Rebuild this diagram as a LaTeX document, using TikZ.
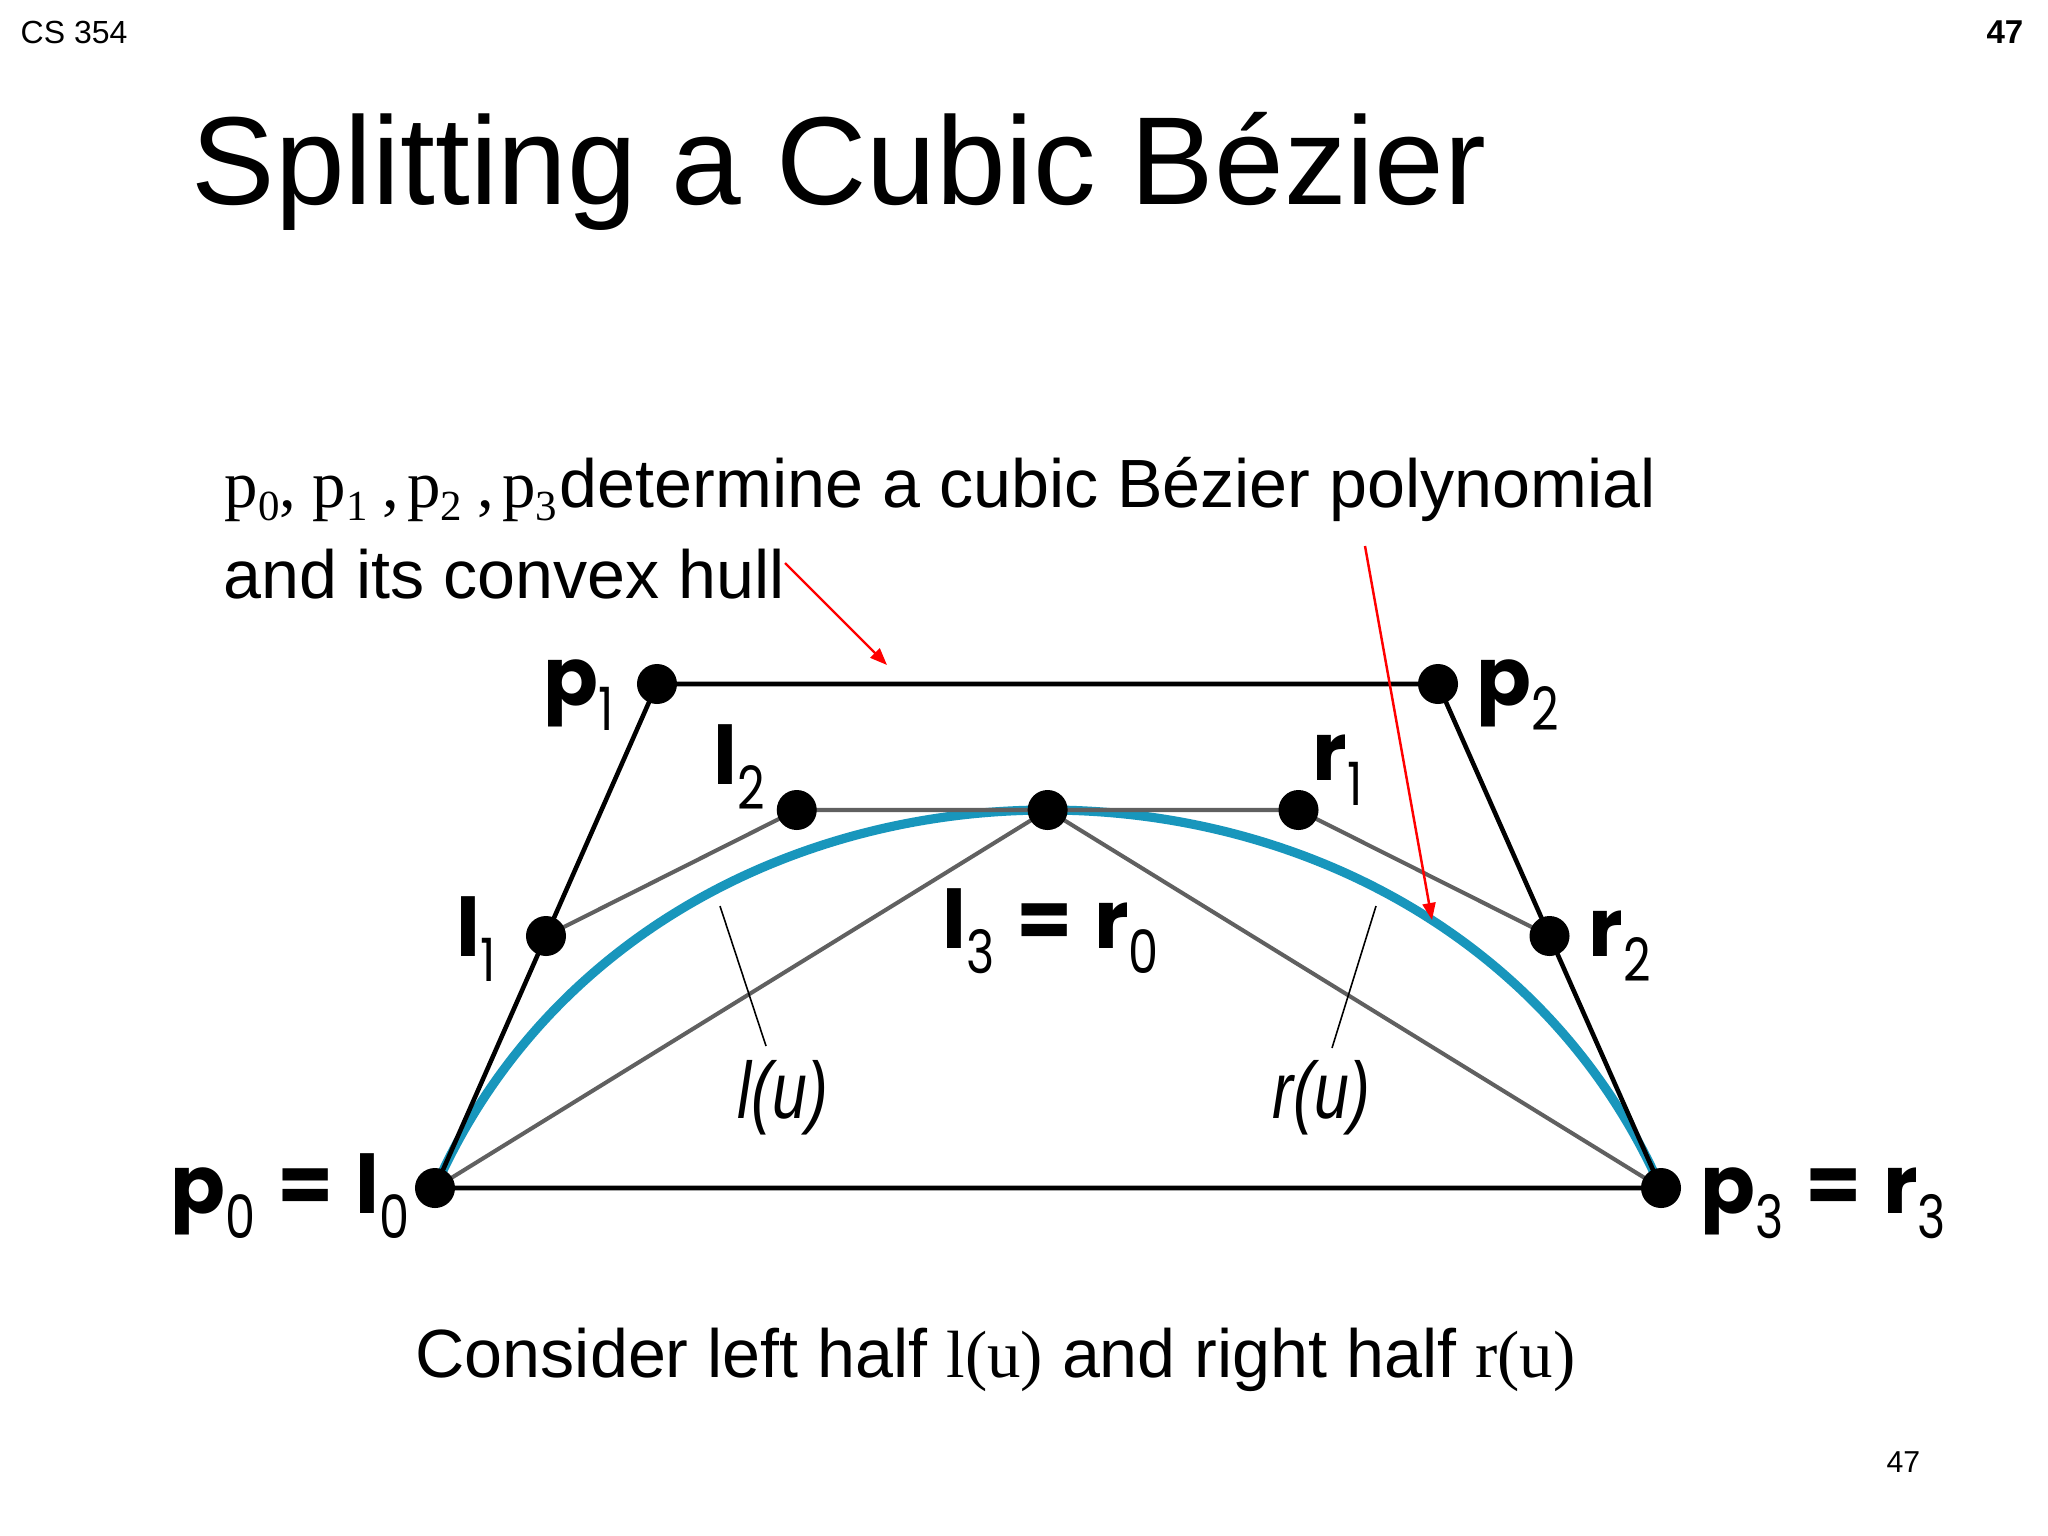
\documentclass[tikz,border=0pt]{standalone}
\usepackage{fontspec}
\setmainfont{Liberation Sans}
\newfontfamily\timesfont{Liberation Serif}
\newfontfamily\figfont{Poppins}
\newfontfamily\subfont[FakeStretch=0.8]{Poppins}
\newfontfamily\curvefont[FakeStretch=0.78]{Liberation Sans}
\usetikzlibrary{arrows.meta,positioning,calc}
\definecolor{curveblue}{RGB}{24,150,188}
\definecolor{polygray}{RGB}{96,96,96}
\definecolor{notered}{RGB}{255,0,0}

% bold point name with a light, lowered index
\newcommand{\ptlbl}[2]{{\bfseries #1}\raisebox{-0.25cm}{\subfont\fontsize{17pt}{18pt}\selectfont #2}}
% serif variable with index
\newcommand{\vsub}[2]{#1\raisebox{-0.13cm}{\fontsize{12.2pt}{13pt}\selectfont #2}}
\newcommand{\serifpart}[1]{{\timesfont\fontsize{19pt}{22pt}\selectfont #1}}

\begin{document}
\begin{tikzpicture}[
    x=0.01cm, y=-0.01cm,
    dot/.style={circle, fill=black, inner sep=0pt, minimum size=0.4cm},
    hull/.style={line width=1.3pt, color=black},
    split/.style={line width=1.15pt, color=polygray},
    bez/.style={line width=2.6pt, color=curveblue},
    leader/.style={line width=0.45pt, color=black},
    redarrow/.style={-{Triangle[length=0.17cm, width=0.13cm]}, line width=0.7pt, color=notered},
    ptlabel/.style={font=\figfont\fontsize{23pt}{26pt}\selectfont, inner sep=0pt, anchor=base west},
    curvelbl/.style={font=\curvefont\itshape\fontsize{22.8pt}{26pt}\selectfont, inner sep=0pt, anchor=base west},
    body/.style={font=\fontsize{19.4pt}{24pt}\selectfont, inner sep=0pt, anchor=base west},
]

% page
\fill[white] (0,0) rectangle (2048,1536);
\useasboundingbox (0,0) rectangle (2048,1536);

% === Header ===
\node[anchor=base west, inner sep=0pt, font=\fontsize{9.1pt}{11pt}\selectfont]
    (course) at (20,43) {CS 354};
\node[anchor=base east, inner sep=0pt, font=\bfseries\fontsize{9.4pt}{11pt}\selectfont]
    (pagetop) at (2024,43) {47};
\node[anchor=base west, inner sep=0pt, font=\fontsize{35.6pt}{40pt}\selectfont]
    (title) at (191,204) {Splitting a Cubic Bézier};

% === Caption ===
\node[body] (line1) at (224,507)
    {\serifpart{\vsub{p}{0}, \vsub{p}{1}\hspace{0.15cm},\hspace{0.08cm}\vsub{p}{2}\hspace{0.15cm},\hspace{0.08cm}\vsub{p}{3}}\hspace{0.03cm}determine a cubic Bézier polynomial};
\node[body] (hull) at (223,598) {and its convex hull};

% === Control points and de Casteljau split ===
\coordinate (p0) at (435,1188);
\coordinate (p1) at (657,684);
\coordinate (p2) at (1438,684);
\coordinate (p3) at (1661,1188);
\coordinate (m12) at ($(p1)!0.5!(p2)$);
\coordinate (l1) at ($(p0)!0.5!(p1)$);
\coordinate (r2) at ($(p2)!0.5!(p3)$);
\coordinate (l2) at ($(l1)!0.5!(m12)$);
\coordinate (r1) at ($(m12)!0.5!(r2)$);
\coordinate (l3) at ($(l2)!0.5!(r1)$);

% curve
\draw[bez] (p0) .. controls (p1) and (p2) .. (p3);

% sub-polygons
\draw[split] (l1) -- (l2) -- (r1) -- (r2);
\draw[split] (p0) -- (l3) -- (p3);

% convex hull
\draw[hull] (p0) -- (p1) -- (p2) -- (p3) -- cycle;

\foreach \pt in {p0,p1,p2,p3,l1,l2,l3,r1,r2}
    \node[dot] at (\pt) {};

% === Point labels ===
\node[ptlabel] (p0lbl) at (170,1213) {\ptlbl{p}{0} {\bfseries=} \ptlbl{l}{0}};
\node[ptlabel] (p1lbl) at (543,705) {\ptlbl{p}{1}};
\node[ptlabel] (p2lbl) at (1476,705) {\ptlbl{p}{2}};
\node[ptlabel] (p3lbl) at (1700,1213) {\ptlbl{p}{3} {\bfseries=} \ptlbl{r}{3}};
\node[ptlabel] (l1lbl) at (456,956) {\ptlbl{l}{1}};
\node[ptlabel] (l2lbl) at (713,784) {\ptlbl{l}{2}};
\node[ptlabel] (l3lbl) at (942,948) {\ptlbl{l}{3} {\bfseries=} \ptlbl{r}{0}};
\node[ptlabel] (r1lbl) at (1312,780) {\ptlbl{r}{1}};
\node[ptlabel] (r2lbl) at (1588,956) {\ptlbl{r}{2}};

% === Curve halves ===
\coordinate (lutop) at (720,906);
\coordinate (lubot) at (766,1046);
\coordinate (rutop) at (1376,906);
\coordinate (rubot) at (1332,1048);
\draw[leader] (lutop) -- (lubot);
\draw[leader] (rutop) -- (rubot);
\node[curvelbl] (lu) at (737,1118) {l(u)};
\node[curvelbl] (ru) at (1272,1118) {r(u)};

% === Red pointers ===
\coordinate (hullstart) at (785,563);
\coordinate (hulltip) at (887,665);
\coordinate (polystart) at (1365,546);
\coordinate (polytip) at (1432,920);
\draw[redarrow] (hullstart) -- (hulltip);
\draw[redarrow] (polystart) -- (polytip);

% === Footer ===
\node[body] (summary) at (415,1377)
    {Consider left half \serifpart{l(u)} and right half \serifpart{r(u)}};
\node[anchor=base east, inner sep=0pt, font=\fontsize{8.6pt}{10pt}\selectfont]
    (pagebot) at (1921,1472) {47};

\end{tikzpicture}
\end{document}
